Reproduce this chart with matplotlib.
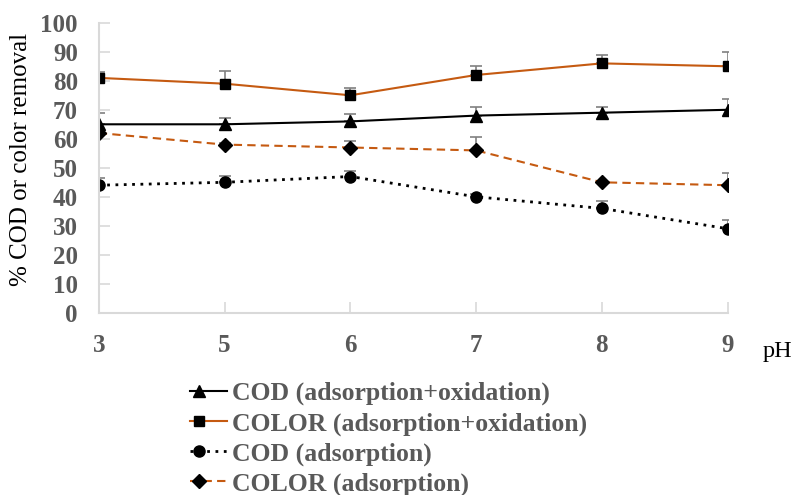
import numpy as np
import matplotlib.pyplot as plt
from matplotlib.legend_handler import HandlerLine2D

ph = ["3", "5", "6", "7", "8", "9"]
cod_ao = [65, 65, 66, 68, 69, 70]
cod_ao_err = [4, 2.2, 2.6, 3, 2, 3.8]
color_ao = [81, 79, 75, 82, 86, 85]
color_ao_err = [2, 4.5, 2.5, 3, 3, 5]
cod_a = [44, 45, 47, 40, 36, 29]
cod_a_err = [2.5, 2.3, 2, 1, 2.7, 3]
color_a = [62, 58, 57, 56, 45, 44]
color_a_err = [1, 0.5, 2.3, 4.5, 0.5, 4.3]

orange = "#C55A11"
gray = "#595959"
plt.rcParams["font.family"] = ["Liberation Serif", "DejaVu Serif"]

fig = plt.figure(figsize=[7.97, 4.95], dpi=100)
ax = fig.add_axes([0.124, 0.368, 0.789, 0.586])
x = np.arange(len(ph))

eb = dict(fmt="none", ecolor="#808080", elinewidth=1.2, capsize=4, capthick=1.2)
ax.errorbar(x, cod_ao, yerr=[np.zeros(6), cod_ao_err], **eb)
ax.errorbar(x, color_ao, yerr=[np.zeros(6), color_ao_err], **eb)
ax.errorbar(x, cod_a, yerr=[np.zeros(6), cod_a_err], **eb)
ax.errorbar(x, color_a, yerr=[np.zeros(6), color_a_err], **eb)

ax.plot(x, cod_ao, color="black", lw=1.5, marker="^", ms=9, mfc="black", mec="black",
        label="COD (adsorption+oxidation)")
ax.plot(x, color_ao, color=orange, lw=1.5, marker="s", ms=7, mfc="black", mec="black",
        label="COLOR (adsorption+oxidation)")
ax.plot(x, cod_a, color="black", lw=2, ls=(0, (1, 2)), marker="o", ms=8, mfc="black",
        mec="black", label="COD (adsorption)")
ax.plot(x, color_a, color=orange, lw=1.5, ls=(0, (4, 2.5)), marker="D", ms=7, mfc="black",
        mec="black", label="COLOR (adsorption)")

ax.set_xlim(0, 5)
ax.set_ylim(0, 100)
ax.set_xticks(x)
ax.set_xticklabels(ph)
ax.set_yticks(np.arange(0, 101, 10))
for s in ["top", "right"]:
    ax.spines[s].set_visible(False)
for s in ["left", "bottom"]:
    ax.spines[s].set_color("#d9d9d9")
    ax.spines[s].set_linewidth(1.5)
ax.tick_params(direction="in", length=8, width=1.2, color="#d9d9d9", labelcolor=gray,
               labelsize=18)
ax.tick_params(axis="y", pad=15)
ax.tick_params(axis="x", pad=15)
for t in ax.get_xticklabels() + ax.get_yticklabels():
    t.set_fontweight("bold")
ax.set_ylabel("% COD or color removal", fontsize=18)
ax.yaxis.set_label_coords(-0.107, 0.53)
fig.text(763 / 797, 1 - 357 / 495, "pH", fontsize=17.5)


# legend marker sits near the left end of the sample line, like Excel
def second_point_marker(h, orig):
    h.update_from(orig)
    h.set_markevery([1])


leg = fig.legend(loc="upper left", bbox_to_anchor=(190 / 797, 1 - 382 / 495), frameon=False,
                 handlelength=1.45, handletextpad=0.2, labelspacing=0.26,
                 borderaxespad=0, borderpad=0, prop=dict(size=18.5, weight="bold"),
                 handler_map={plt.Line2D: HandlerLine2D(numpoints=5, marker_pad=0,
                                                        update_func=second_point_marker)})
for t in leg.get_texts():
    t.set_color(gray)

plt.savefig("out.png", dpi=100)
